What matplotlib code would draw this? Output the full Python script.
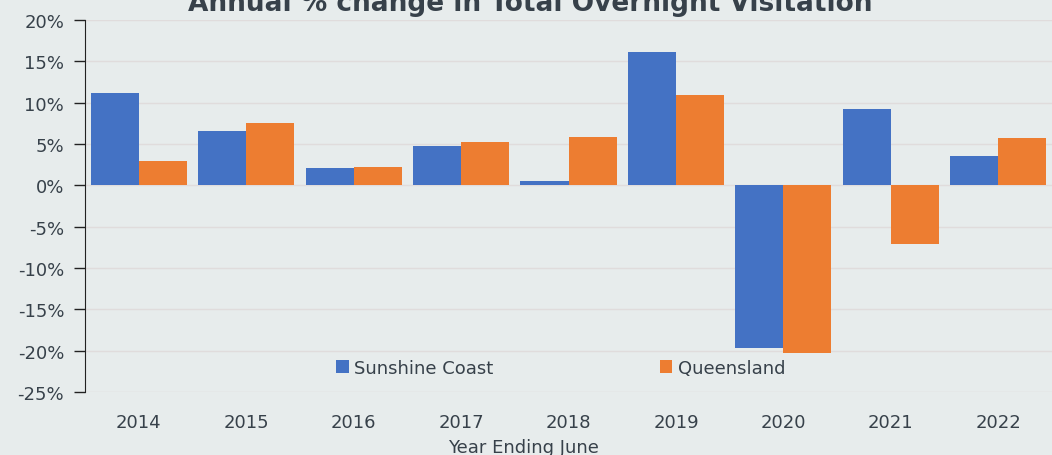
import matplotlib
matplotlib.use("agg")
import matplotlib.pyplot as plt
import numpy as np
from matplotlib.ticker import FuncFormatter, MultipleLocator

years = ['2014', '2015', '2016', '2017', '2018', '2019', '2020', '2021', '2022']
sunshine_coast = [11.2, 6.6, 2.1, 4.7, 0.5, 16.1, -19.7, 9.2, 3.6]
queensland = [2.9, 7.6, 2.2, 5.3, 5.9, 10.9, -20.3, -7.1, 5.7]

bg = '#e7ecec'
text_color = '#37414a'
blue = '#4472c4'
orange = '#ed7d31'

plt.rcParams['font.family'] = 'DejaVu Sans'
plt.rcParams['text.color'] = text_color

fig = plt.figure(figsize=(10.52, 4.56), dpi=100, facecolor=bg)
ax = fig.add_axes([0.0808, 0.138, 0.9192, 0.816], facecolor=bg)

x = np.arange(len(years))
width = 0.447
ax.bar(x - width / 2, sunshine_coast, width, color=blue, label='Sunshine Coast', zorder=3)
ax.bar(x + width / 2, queensland, width, color=orange, label='Queensland', zorder=3)

ax.set_xlim(-0.5, len(years) - 0.5)
ax.set_ylim(-25, 20)
ax.yaxis.set_major_locator(MultipleLocator(5))
ax.yaxis.set_major_formatter(FuncFormatter(lambda v, _: f'{v:.0f}%'))
ax.set_xticks(x)
ax.set_xticklabels(years)

ax.grid(axis='y', color='#e0dcdc', linewidth=1, zorder=0)
for side in ['top', 'right', 'bottom']:
    ax.spines[side].set_visible(False)
ax.spines['left'].set_color('#222222')
ax.tick_params(axis='y', length=8, width=1, color='#222222', labelsize=13,
               labelcolor=text_color, pad=7)
ax.tick_params(axis='x', length=0, labelsize=13, labelcolor=text_color, pad=15)

ax.set_xlabel('Year Ending June', fontsize=13, color=text_color, labelpad=1)
ax.xaxis.set_label_coords(0.453, -0.124)
ax.set_title('Annual % change in Total Overnight Visitation', fontsize=19,
             fontweight='bold', color=text_color, pad=7, x=0.460)

ax.legend(loc='center', bbox_to_anchor=(0.492, 0.0645), ncol=2, frameon=False,
          fontsize=13, handlelength=0.7, handleheight=0.7, handletextpad=0.3,
          columnspacing=9.2, labelcolor=text_color)

fig.savefig('out.png', dpi=100, facecolor=bg)
